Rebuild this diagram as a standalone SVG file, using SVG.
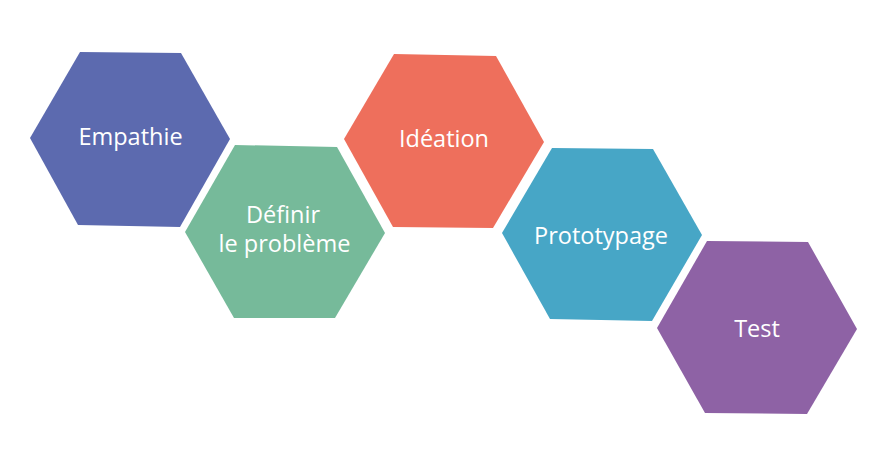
<svg xmlns="http://www.w3.org/2000/svg" width="884" height="472" viewBox="0 0 884 472">
<style>
.lbl{font-family:"Open Sans","Noto Sans","Liberation Sans",sans-serif;font-size:23.5px;fill:#ffffff;text-anchor:middle}
</style>
<rect width="884" height="472" fill="#ffffff"/>
<g id="empathie">
<polygon points="80,52 181,53 230,139 180,227 78,225 30,138" fill="#5C6AAF"/>
<text class="lbl" x="130.5" y="145">Empathie</text>
</g>
<g id="definir">
<polygon points="235,145 337,147 385,233 335,318 234,318 185,232" fill="#76BA9A"/>
<text class="lbl" x="283" y="223">Définir</text>
<text class="lbl" x="284.5" y="252">le problème</text>
</g>
<g id="ideation">
<polygon points="394,54 496,56 544,142 493,228 393,227 344,139" fill="#EE6F5C"/>
<text class="lbl" x="444" y="147">Idéation</text>
</g>
<g id="prototypage">
<polygon points="552,148 653,149 702,235 652,321 550,319 502,233" fill="#47A6C6"/>
<text class="lbl" x="601" y="244">Prototypage</text>
</g>
<g id="test">
<polygon points="707,241 808,242 857,329 807,414 705,413 657,328" fill="#8E62A5"/>
<text class="lbl" x="757" y="337">Test</text>
</g>
<g id="connectors"></g>
</svg>
